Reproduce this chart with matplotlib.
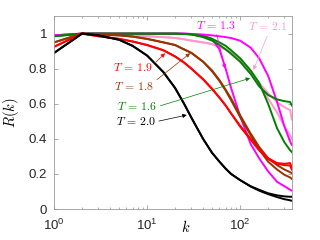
import numpy as np
import matplotlib
matplotlib.use('Agg')
import matplotlib.pyplot as plt
from matplotlib.ticker import FixedLocator, FixedFormatter, LogLocator, NullFormatter

plt.rcParams['font.family'] = ['Liberation Sans', 'DejaVu Sans']
plt.rcParams['mathtext.fontset'] = 'custom'
plt.rcParams['mathtext.rm'] = 'Liberation Sans'
plt.rcParams['mathtext.it'] = 'Liberation Sans:italic'

# ---- data (two curves per temperature) ----
k = [1, 2, 3, 5, 7, 10, 15, 20, 25, 30, 40, 50, 60, 70, 80, 100, 130, 160, 200, 250, 300, 345, 360]

R_T20_a = [0.89, 1.0, 0.99, 0.965, 0.93, 0.875, 0.78, 0.69, 0.60, 0.52, 0.40, 0.32, 0.27, 0.23, 0.20, 0.165, 0.13, 0.11, 0.09, 0.078, 0.072, 0.07, 0.07]
R_T20_b = [0.89, 1.0, 0.99, 0.965, 0.93, 0.875, 0.78, 0.69, 0.60, 0.52, 0.40, 0.32, 0.27, 0.23, 0.20, 0.165, 0.128, 0.105, 0.085, 0.068, 0.056, 0.05, 0.047]

R_T19_a = [0.925, 1.0, 0.985, 0.97, 0.955, 0.935, 0.905, 0.87, 0.835, 0.80, 0.74, 0.685, 0.635, 0.59, 0.545, 0.475, 0.40, 0.34, 0.29, 0.262, 0.258, 0.262, 0.232]
R_T19_b = [0.925, 1.0, 0.985, 0.97, 0.955, 0.935, 0.905, 0.87, 0.835, 0.80, 0.74, 0.685, 0.635, 0.59, 0.545, 0.47, 0.395, 0.335, 0.285, 0.258, 0.25, 0.248, 0.225]

R_T18_a = [0.95, 1.0, 0.995, 0.99, 0.983, 0.97, 0.95, 0.935, 0.91, 0.89, 0.84, 0.79, 0.735, 0.68, 0.63, 0.535, 0.43, 0.355, 0.29, 0.25, 0.225, 0.21, 0.205]
R_T18_b = [0.95, 1.0, 0.995, 0.99, 0.983, 0.97, 0.95, 0.935, 0.91, 0.89, 0.84, 0.785, 0.73, 0.675, 0.62, 0.525, 0.42, 0.34, 0.27, 0.225, 0.195, 0.18, 0.172]

R_T16_a = [0.985, 1.0, 1.0, 1.0, 1.0, 1.0, 1.0, 1.0, 0.998, 0.995, 0.98, 0.96, 0.935, 0.91, 0.885, 0.84, 0.77, 0.70, 0.65, 0.625, 0.615, 0.61, 0.59]
R_T16_b = [0.985, 1.0, 1.0, 1.0, 1.0, 1.0, 1.0, 1.0, 0.998, 0.995, 0.985, 0.97, 0.95, 0.93, 0.905, 0.86, 0.79, 0.72, 0.60, 0.46, 0.38, 0.335, 0.325]

R_T13_a = [0.99, 1.0, 1.0, 1.0, 1.0, 1.0, 1.0, 1.0, 1.0, 0.998, 0.99, 0.97, 0.91, 0.80, 0.69, 0.53, 0.37, 0.29, 0.215, 0.155, 0.13, 0.11, 0.105]
R_T13_b = [0.99, 1.0, 1.0, 1.0, 1.0, 1.0, 1.0, 1.0, 1.0, 0.998, 0.995, 0.99, 0.985, 0.98, 0.975, 0.96, 0.92, 0.86, 0.76, 0.61, 0.47, 0.385, 0.365]

R_T21_a = [0.99, 1.0, 1.0, 0.995, 0.99, 0.985, 0.98, 0.975, 0.968, 0.96, 0.95, 0.94, 0.925, 0.91, 0.89, 0.85, 0.78, 0.72, 0.66, 0.61, 0.58, 0.565, 0.51]
R_T21_b = [0.99, 1.0, 1.0, 0.995, 0.99, 0.985, 0.98, 0.975, 0.968, 0.96, 0.95, 0.94, 0.925, 0.91, 0.89, 0.85, 0.775, 0.71, 0.63, 0.55, 0.47, 0.42, 0.40]

c_20 = 'black'
c_19 = 'red'
c_18 = '#993300'
c_16 = '#008000'
c_13 = '#ff00ff'
c_21 = '#ff99cc'

fig = plt.figure(figsize=(3.2, 2.4), dpi=100)
ax = fig.add_axes([0.169, 0.129, 0.743, 0.804])

# draw order: later ones on top
for ra, rb, c in [(R_T21_a, R_T21_b, c_21), (R_T13_a, R_T13_b, c_13),
                  (R_T16_a, R_T16_b, c_16), (R_T18_a, R_T18_b, c_18),
                  (R_T19_a, R_T19_b, c_19), (R_T20_a, R_T20_b, c_20)]:
    ax.plot(k, ra, color=c, lw=1.4)
    ax.plot(k, rb, color=c, lw=1.4)

ax.set_xscale('log')
ax.set_xlim(1, 360)
ax.set_ylim(0, 1.1)

ax.xaxis.set_major_locator(FixedLocator([1, 10, 100]))
ax.xaxis.set_major_formatter(FixedFormatter([r'$10^0$', r'$10^1$', r'$10^2$']))
ax.xaxis.set_minor_locator(LogLocator(base=10, subs=np.arange(2, 10)))
ax.xaxis.set_minor_formatter(NullFormatter())
ax.yaxis.set_major_locator(FixedLocator([0, 0.2, 0.4, 0.6, 0.8, 1.0]))
ax.yaxis.set_major_formatter(FixedFormatter(['0', '0.2', '0.4', '0.6', '0.8', '1']))

ax.tick_params(which='both', direction='in', top=True, right=True,
               color='#888888', labelsize=9.5, labelcolor='#262626')
ax.tick_params(which='major', length=3, width=0.5)
ax.tick_params(which='minor', length=1.5, width=0.5)
ax.tick_params(axis='x', pad=6)
ax.tick_params(axis='y', pad=5)
for s in ax.spines.values():
    s.set_color('#999999')
    s.set_linewidth(0.6)

ax.set_xlabel(r'$k$', fontsize=10.5, math_fontfamily='cm')
ax.xaxis.label.set_va('center')
ax.xaxis.set_label_coords(0.555, -0.092)
ax.set_ylabel(r'$R(k)$', fontsize=10.5, math_fontfamily='cm')
ax.yaxis.set_label_coords(-0.14, 0.5)

# ---- labels with arrows: (text, text pos, arrow tip, colour, relpos) ----
notes = [
    (r'$T\,=\,1.3$', (55, 1.045), (69, 0.80), c_13, (0.5, 0.0)),
    (r'$T\,=\,2.1$', (201, 1.035), (139, 0.793), c_21, (0.5, 0.0)),
    (r'$T\,=\,1.9$', (7.1, 0.803), (15.6, 0.888), c_19, (1.0, 0.8)),
    (r'$T\,=\,1.8$', (7.25, 0.698), (29, 0.888), c_18, (1.0, 0.9)),
    (r'$T\,=\,1.6$', (7.9, 0.584), (128, 0.746), c_16, (1.0, 0.5)),
    (r'$T\,=\,2.0$', (7.6, 0.498), (26.7, 0.536), c_20, (1.0, 0.5)),
]
for txt, pos, tip, c, rp in notes:
    ax.annotate(txt, xy=tip, xytext=pos, color=c, fontsize=8.5,
                math_fontfamily='cm', ha='center', va='center',
                arrowprops=dict(arrowstyle='-|>', color=c, lw=0.5,
                                mutation_scale=6, shrinkA=0, shrinkB=0,
                                relpos=rp))

fig.savefig('out.png', dpi=100)
